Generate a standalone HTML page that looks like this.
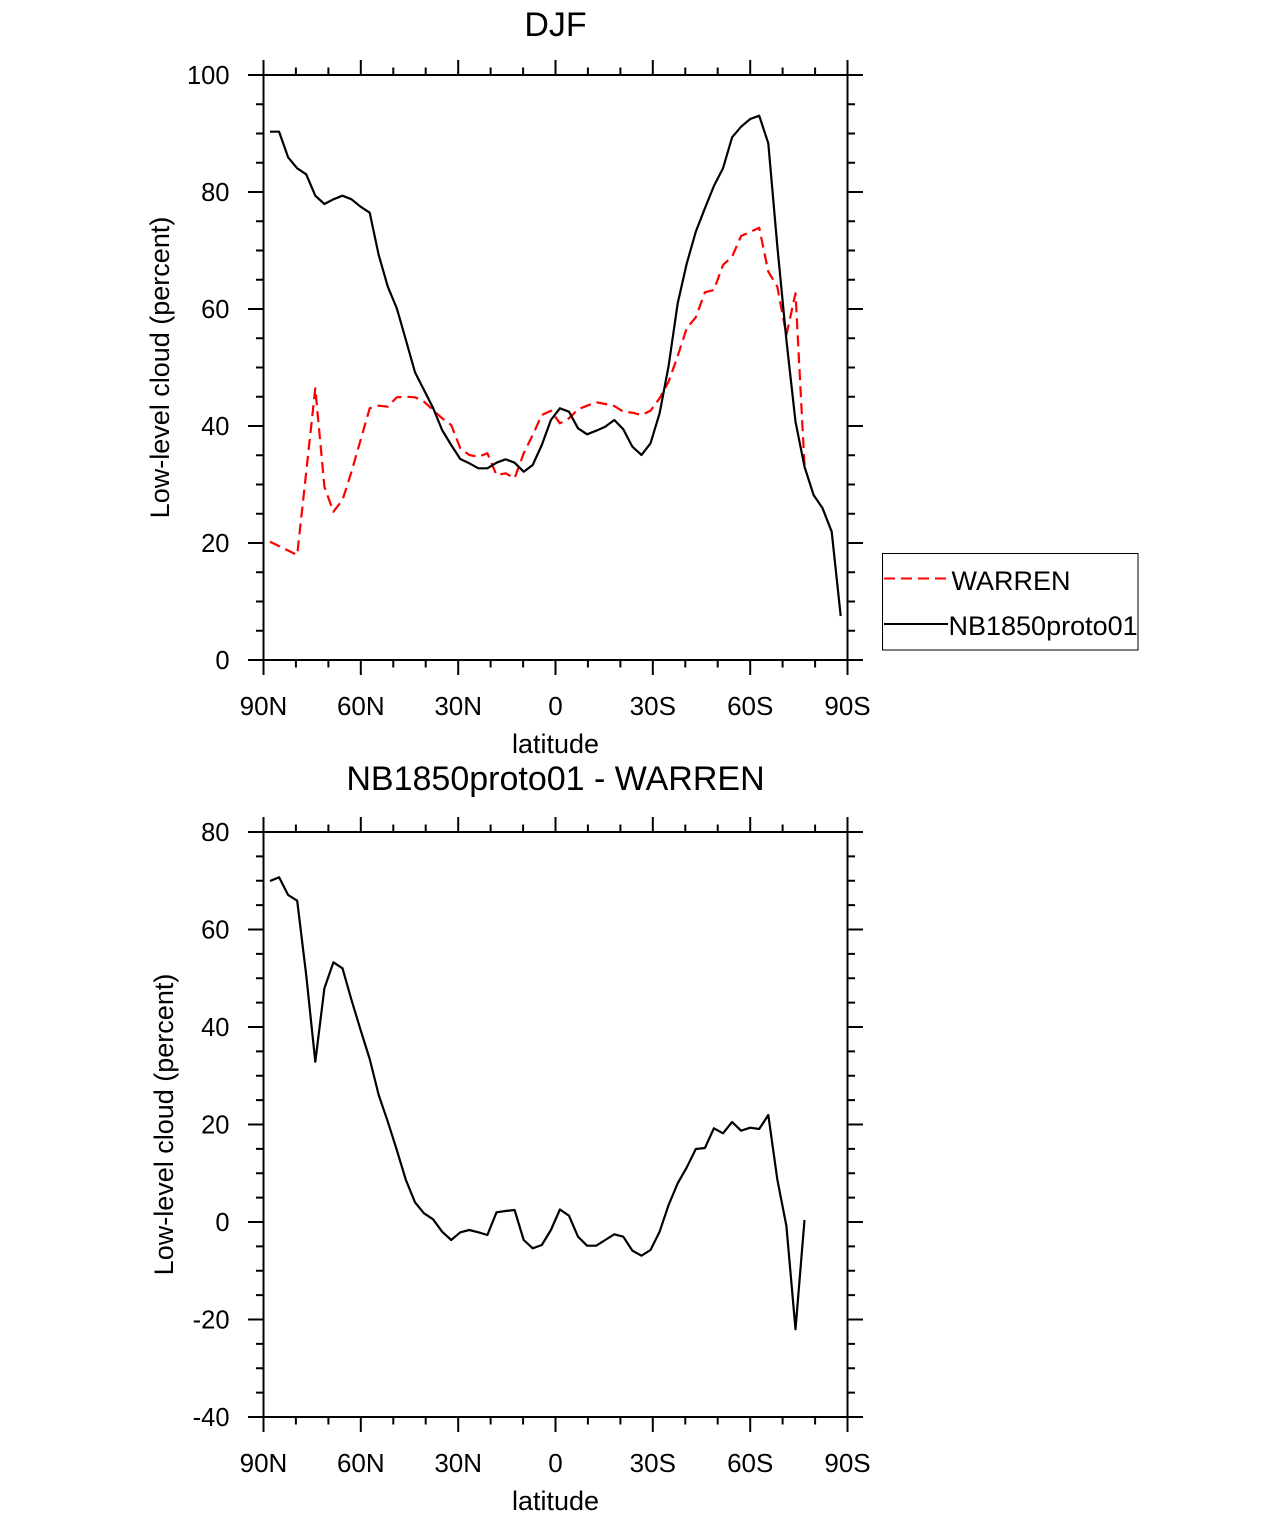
<!DOCTYPE html>
<html>
<head>
<meta charset="utf-8">
<style>
html,body{margin:0;padding:0;background:#fff;}
svg{display:block;}
text{font-family:"Liberation Sans",Arial,Helvetica,sans-serif;fill:#000;}
</style>
</head>
<body>
<svg width="1285" height="1517" viewBox="0 0 1285 1517" xmlns="http://www.w3.org/2000/svg">
<rect x="0" y="0" width="1285" height="1517" fill="#fff"/>

<!-- ============ PLOT 1 ============ -->
<text x="555.5" y="36" font-size="34" text-anchor="middle">DJF</text>

<g stroke="#000" stroke-width="2" fill="none">
  <rect x="263.5" y="75" width="584" height="585"/>
  <path d="M248,75H263.5M248,192H263.5M248,309H263.5M248,426H263.5M248,543H263.5M248,660H263.5"/>
  <path d="M256,104.25H263.5M256,133.5H263.5M256,162.75H263.5M256,221.25H263.5M256,250.5H263.5M256,279.75H263.5M256,338.25H263.5M256,367.5H263.5M256,396.75H263.5M256,455.25H263.5M256,484.5H263.5M256,513.75H263.5M256,572.25H263.5M256,601.5H263.5M256,630.75H263.5"/>
  <path d="M847.5,75H863M847.5,192H863M847.5,309H863M847.5,426H863M847.5,543H863M847.5,660H863"/>
  <path d="M847.5,104.25H855M847.5,133.5H855M847.5,162.75H855M847.5,221.25H855M847.5,250.5H855M847.5,279.75H855M847.5,338.25H855M847.5,367.5H855M847.5,396.75H855M847.5,455.25H855M847.5,484.5H855M847.5,513.75H855M847.5,572.25H855M847.5,601.5H855M847.5,630.75H855"/>
  <path d="M263.5,660V675M360.8,660V675M458.2,660V675M555.5,660V675M652.8,660V675M750.2,660V675M847.5,660V675"/>
  <path d="M295.9,660V667.5M328.4,660V667.5M393.3,660V667.5M425.7,660V667.5M490.6,660V667.5M523.1,660V667.5M587.9,660V667.5M620.4,660V667.5M685.3,660V667.5M717.7,660V667.5M782.6,660V667.5M815.1,660V667.5"/>
  <path d="M263.5,75V60M360.8,75V60M458.2,75V60M555.5,75V60M652.8,75V60M750.2,75V60M847.5,75V60"/>
  <path d="M295.9,75V67.5M328.4,75V67.5M393.3,75V67.5M425.7,75V67.5M490.6,75V67.5M523.1,75V67.5M587.9,75V67.5M620.4,75V67.5M685.3,75V67.5M717.7,75V67.5M782.6,75V67.5M815.1,75V67.5"/>
</g>

<g font-size="25.5" text-anchor="end">
  <text x="229.5" y="84">100</text>
  <text x="229.5" y="201">80</text>
  <text x="229.5" y="318">60</text>
  <text x="229.5" y="435">40</text>
  <text x="229.5" y="552">20</text>
  <text x="229.5" y="669">0</text>
</g>
<g font-size="26" text-anchor="middle">
  <text x="263.5" y="715">90N</text>
  <text x="360.8" y="715">60N</text>
  <text x="458.2" y="715">30N</text>
  <text x="555.5" y="715">0</text>
  <text x="652.8" y="715">30S</text>
  <text x="750.2" y="715">60S</text>
  <text x="847.5" y="715">90S</text>
</g>
<text x="555.5" y="753" font-size="27" text-anchor="middle">latitude</text>
<text transform="translate(169,367.5) rotate(-90)" font-size="27" text-anchor="middle">Low-level cloud (percent)</text>

<polyline fill="none" stroke="#ff0000" stroke-width="2.2" stroke-dasharray="11 6" stroke-linejoin="round"
points="270,541.7 297.2,555 315.3,388.3 324.4,486.7 333.4,511.7 342.5,500 351.5,471.7 360.6,440 369.7,408.3 378.7,405.7 387.8,406.7 396.8,397.3 405.9,396.7 415,397.3 424,401.7 433.1,410 442.1,418.3 451.2,425 460.3,448.3 469.3,455 478.4,456.7 487.4,453.3 496.5,475 505.6,473.3 514.6,478.3 523.7,453.3 532.7,435 541.8,415 550.9,410.7 559.9,423.3 569,418.3 578,409.3 587.1,405.7 596.2,402.3 605.2,404 614.3,406 623.3,411.7 632.4,412.7 641.5,415 650.5,410.7 659.6,398.3 668.6,381.7 677.7,356 686.8,328 695.8,317.3 704.9,292.3 713.9,290 723,265 732.1,256.7 741.1,236 750.2,232 759.2,227.7 768.3,271.7 777.3,286.7 786.4,335 795.5,293.3 804.5,465"/>

<polyline fill="none" stroke="#000" stroke-width="2.2" stroke-linejoin="round"
points="270,131.7 279.1,131.7 288.1,157.3 297.2,168.3 306.2,174.3 315.3,195.7 324.4,204 333.4,199.3 342.5,195.7 351.5,199.3 360.6,206.7 369.7,212.7 378.7,255 387.8,286.7 396.8,308.3 405.9,340 415,372.3 424,390 433.1,408 442.1,430 451.2,445 460.3,459 469.3,463.3 478.4,468.3 487.4,468.3 496.5,462.7 505.6,459.3 514.6,462.7 523.7,471.7 532.7,465 541.8,445 550.9,420 559.9,408.3 569,411.7 578,428.3 587.1,434.3 596.2,430.7 605.2,426.7 614.3,420 623.3,429.3 632.4,446.7 641.5,455 650.5,443.3 659.6,413.3 668.6,366 677.7,303.3 686.8,263.3 695.8,231.7 704.9,208.3 713.9,186 723,168.3 732.1,137.3 741.1,126.7 750.2,119 759.2,115.7 768.3,143.3 777.3,246 786.4,340 795.5,421.7 804.5,466.7 813.6,495 822.6,508.3 831.7,531.7 840.7,616"/>

<!-- legend -->
<rect x="882.5" y="553.5" width="255.5" height="96.5" fill="#fff" stroke="#000" stroke-width="1"/>
<line x1="884" y1="578.5" x2="951" y2="578.5" stroke="#ff0000" stroke-width="2" stroke-dasharray="11 6"/>
<line x1="884" y1="624" x2="948" y2="624" stroke="#000" stroke-width="2"/>
<text x="951.5" y="590" font-size="27">WARREN</text>
<text x="948.5" y="635" font-size="27">NB1850proto01</text>

<!-- ============ PLOT 2 ============ -->
<text x="555.5" y="790" font-size="34" text-anchor="middle">NB1850proto01 - WARREN</text>

<g stroke="#000" stroke-width="2" fill="none">
  <rect x="263.5" y="832" width="584" height="585"/>
  <path d="M248,832H263.5M248,929.5H263.5M248,1027H263.5M248,1124.5H263.5M248,1222H263.5M248,1319.5H263.5M248,1417H263.5"/>
  <path d="M256,856.4H263.5M256,880.75H263.5M256,905.1H263.5M256,953.9H263.5M256,978.25H263.5M256,1002.6H263.5M256,1051.4H263.5M256,1075.75H263.5M256,1100.1H263.5M256,1148.9H263.5M256,1173.25H263.5M256,1197.6H263.5M256,1246.4H263.5M256,1270.75H263.5M256,1295.1H263.5M256,1343.9H263.5M256,1368.25H263.5M256,1392.6H263.5"/>
  <path d="M847.5,832H863M847.5,929.5H863M847.5,1027H863M847.5,1124.5H863M847.5,1222H863M847.5,1319.5H863M847.5,1417H863"/>
  <path d="M847.5,856.4H855M847.5,880.75H855M847.5,905.1H855M847.5,953.9H855M847.5,978.25H855M847.5,1002.6H855M847.5,1051.4H855M847.5,1075.75H855M847.5,1100.1H855M847.5,1148.9H855M847.5,1173.25H855M847.5,1197.6H855M847.5,1246.4H855M847.5,1270.75H855M847.5,1295.1H855M847.5,1343.9H855M847.5,1368.25H855M847.5,1392.6H855"/>
  <path d="M263.5,1417V1432M360.8,1417V1432M458.2,1417V1432M555.5,1417V1432M652.8,1417V1432M750.2,1417V1432M847.5,1417V1432"/>
  <path d="M295.9,1417V1424.5M328.4,1417V1424.5M393.3,1417V1424.5M425.7,1417V1424.5M490.6,1417V1424.5M523.1,1417V1424.5M587.9,1417V1424.5M620.4,1417V1424.5M685.3,1417V1424.5M717.7,1417V1424.5M782.6,1417V1424.5M815.1,1417V1424.5"/>
  <path d="M263.5,832V817M360.8,832V817M458.2,832V817M555.5,832V817M652.8,832V817M750.2,832V817M847.5,832V817"/>
  <path d="M295.9,832V824.5M328.4,832V824.5M393.3,832V824.5M425.7,832V824.5M490.6,832V824.5M523.1,832V824.5M587.9,832V824.5M620.4,832V824.5M685.3,832V824.5M717.7,832V824.5M782.6,832V824.5M815.1,832V824.5"/>
</g>

<g font-size="25.5" text-anchor="end">
  <text x="229.5" y="841">80</text>
  <text x="229.5" y="938.5">60</text>
  <text x="229.5" y="1036">40</text>
  <text x="229.5" y="1133.5">20</text>
  <text x="229.5" y="1231">0</text>
  <text x="229.5" y="1328.5">-20</text>
  <text x="229.5" y="1426">-40</text>
</g>
<g font-size="26" text-anchor="middle">
  <text x="263.5" y="1472">90N</text>
  <text x="360.8" y="1472">60N</text>
  <text x="458.2" y="1472">30N</text>
  <text x="555.5" y="1472">0</text>
  <text x="652.8" y="1472">30S</text>
  <text x="750.2" y="1472">60S</text>
  <text x="847.5" y="1472">90S</text>
</g>
<text x="555.5" y="1510" font-size="27" text-anchor="middle">latitude</text>
<text transform="translate(173,1124.5) rotate(-90)" font-size="27" text-anchor="middle">Low-level cloud (percent)</text>

<polyline fill="none" stroke="#000" stroke-width="2.2" stroke-linejoin="round"
points="270,881 279.1,877.3 288.1,895 297.2,900.7 306.2,975 315.3,1061.7 324.4,988.3 333.4,962.3 342.5,968.3 351.5,1000 360.6,1030 369.7,1059 378.7,1095 387.8,1121.7 396.8,1150 405.9,1180 415,1202.3 424,1213.3 433.1,1219.3 442.1,1231.7 451.2,1240 460.3,1232.3 469.3,1230 478.4,1232.3 487.4,1235 496.5,1212.3 505.6,1211 514.6,1210 523.7,1240 532.7,1248.3 541.8,1245 550.9,1230 559.9,1209.5 569,1215.7 578,1236.7 587.1,1245.7 596.2,1245.7 605.2,1240 614.3,1234.3 623.3,1236.7 632.4,1250.7 641.5,1255.7 650.5,1250 659.6,1231.7 668.6,1205 677.7,1183.3 686.8,1167.3 695.8,1149 704.9,1148 713.9,1128.3 723,1133.3 732.1,1122 741.1,1130.7 750.2,1127.7 759.2,1129 768.3,1115 777.3,1179.3 786.4,1226 795.5,1329.3 804.5,1220"/>
</svg>
</body>
</html>
